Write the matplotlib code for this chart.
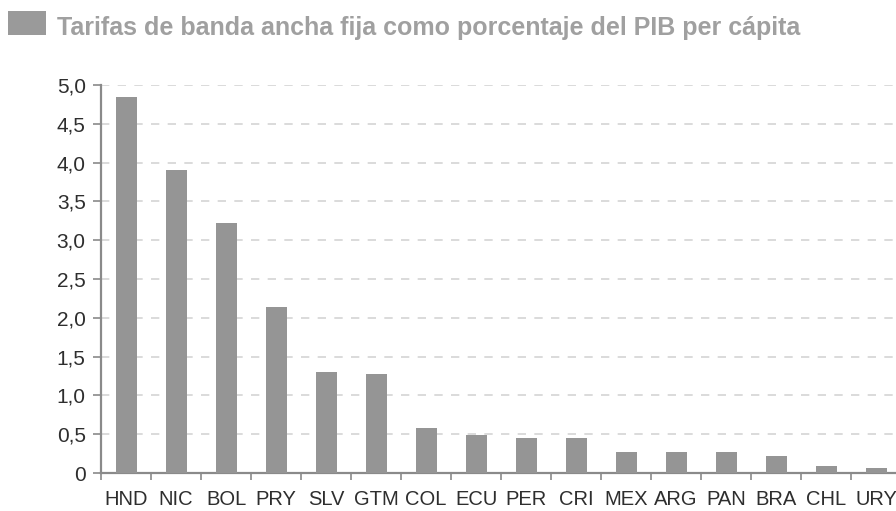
import matplotlib
matplotlib.use('Agg')
import matplotlib.pyplot as plt
from matplotlib.ticker import FixedLocator, NullFormatter
from matplotlib.patches import Rectangle

countries = ['HND', 'NIC', 'BOL', 'PRY', 'SLV', 'GTM', 'COL', 'ECU',
             'PER', 'CRI', 'MEX', 'ARG', 'PAN', 'BRA', 'CHL', 'URY']
values = [4.85, 3.91, 3.22, 2.14, 1.30, 1.28, 0.58, 0.49,
          0.45, 0.45, 0.27, 0.27, 0.27, 0.22, 0.09, 0.07]
yticks = [0, 0.5, 1.0, 1.5, 2.0, 2.5, 3.0, 3.5, 4.0, 4.5, 5.0]
ytick_labels = ['0', '0,5', '1,0', '1,5', '2,0', '2,5', '3,0', '3,5', '4,0', '4,5', '5,0']
title = 'Tarifas de banda ancha fija como porcentaje del PIB per cápita'

plt.rcParams['font.family'] = ['Liberation Sans', 'DejaVu Sans']

BAR = '#959595'
AXIS = '#8a8a8a'
TXT = '#2e2e2e'

W, H = 896, 511
fig = plt.figure(figsize=(W / 100, H / 100), dpi=100)
fig.patch.set_facecolor('white')

# axes box in pixel units, last category runs off the right edge
left, right, top, bottom = 101, 901, 85, 473
ax = fig.add_axes([left / W, (H - bottom) / H, (right - left) / W, (bottom - top) / H])

x = list(range(len(countries)))
ax.bar(x, values, width=0.42, color=BAR, zorder=3)

ax.set_xlim(-0.5, len(countries) - 0.5)
ax.set_ylim(0, 5.0)
ax.set_yticks(yticks)
ax.set_yticklabels(ytick_labels)
ax.yaxis.grid(True, linestyle=(0, (5, 5)), color='#d4d4d4', linewidth=1.2, zorder=0)

# category labels at centres, tick marks at boundaries
ax.set_xticks(x)
ax.set_xticklabels(countries)
ax.tick_params(axis='x', which='major', length=0, pad=12, labelsize=14.5)
ax.xaxis.set_minor_locator(FixedLocator([i - 0.5 for i in range(len(countries) + 1)]))
ax.xaxis.set_minor_formatter(NullFormatter())
ax.tick_params(axis='x', which='minor', length=5, width=1.2, color=AXIS)
ax.tick_params(axis='y', length=6, width=1.2, color=AXIS, pad=5, labelsize=15)
ax.tick_params(labelcolor=TXT)

for s in ['top', 'right']:
    ax.spines[s].set_visible(False)
for s in ['left', 'bottom']:
    ax.spines[s].set_color(AXIS)
    ax.spines[s].set_linewidth(1.6)
ax.set_facecolor('white')

# title with legend swatch
fig.patches.append(Rectangle((8 / W, (H - 35) / H), 38 / W, 24 / H,
                             transform=fig.transFigure, facecolor='#9a9a9a',
                             edgecolor='none'))
fig.text(57 / W, (H - 35) / H, title, ha='left', va='baseline',
         fontsize=18, fontweight='bold', color='#a0a0a0')

fig.savefig('out.png', dpi=100, facecolor='white')
